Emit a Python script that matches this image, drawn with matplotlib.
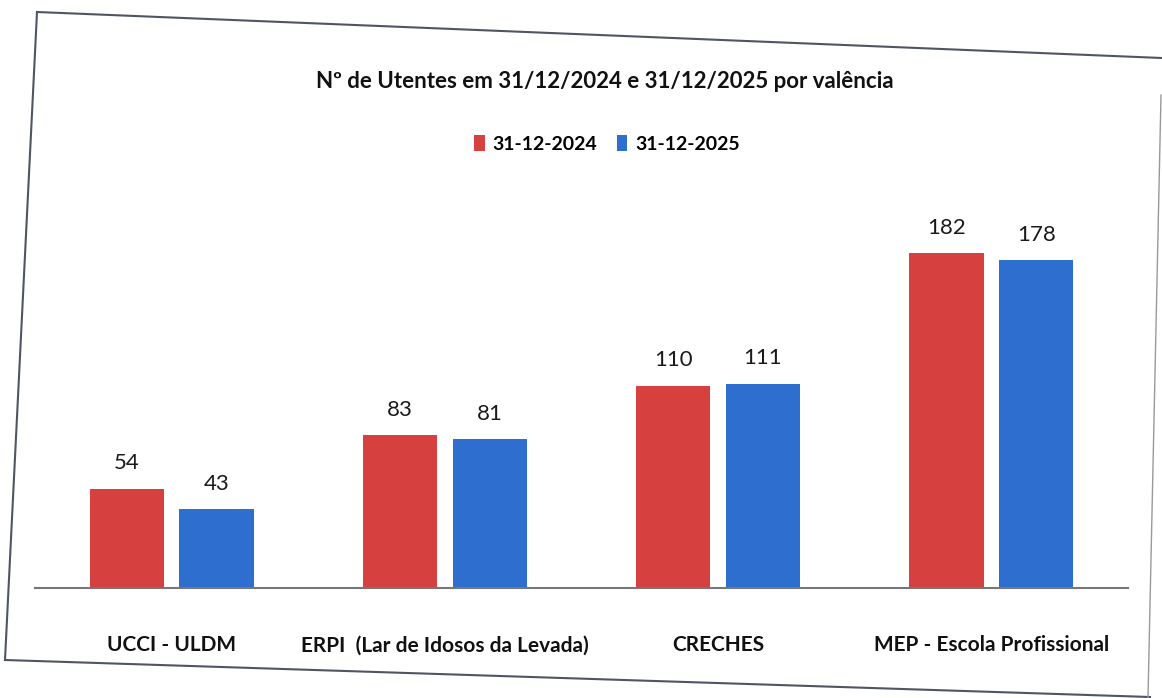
from matplotlib import pyplot as plt
from matplotlib.lines import Line2D
import numpy as np

categories = ['UCCI - ULDM', 'ERPI  (Lar de Idosos da Levada)', 'CRECHES', 'MEP - Escola Profissional']
series_names = ['31-12-2024', '31-12-2025']
values_2024 = [54, 83, 110, 182]
values_2025 = [43, 81, 111, 178]

plt.rcParams['font.family'] = ['Lato', 'DejaVu Sans']

W, H = 1162, 698

def fx(px):
    return px / W

def fy(py):
    return 1 - py / H

fig = plt.figure(figsize=(W / 100, H / 100), dpi=100)
ax = fig.add_axes([fx(35), fy(588), fx(1128) - fx(35), 368 / H])

x = np.arange(len(categories))
width = 0.272
off = 0.164
b1 = ax.bar(x - off, values_2024, width, color='#d6403f', label=series_names[0])
b2 = ax.bar(x + off, values_2025, width, color='#2e6ecf', label=series_names[1])

for bars in (b1, b2):
    for rect in bars:
        h = rect.get_height()
        ax.annotate(f'{h:.0f}', (rect.get_x() + rect.get_width() / 2, h),
                    xytext=(0, 11), textcoords='offset points',
                    ha='center', va='bottom', fontsize=16, color='#1a1a1a')

ax.set_xlim(-0.5, 3.5)
ax.set_ylim(0, 200)
ax.set_yticks([])
ax.set_xticks(x)
ax.set_xticklabels(categories, fontsize=15, fontweight='bold', color='#111111')
ax.tick_params(axis='x', length=0, pad=34)
for s in ['top', 'right', 'left']:
    ax.spines[s].set_visible(False)
ax.spines['bottom'].set_color('#777777')
ax.spines['bottom'].set_linewidth(1.5)

fig.text(fx(605), fy(82), 'Nº de Utentes em 31/12/2024 e 31/12/2025 por valência',
         ha='center', va='center', fontsize=16, fontweight='bold', color='#111111')

fig.legend(handles=[b1, b2], labels=series_names, loc='center',
           bbox_to_anchor=(fx(607), fy(144)), ncol=2, frameon=False,
           prop={'size': 14, 'weight': 'bold'}, handlelength=0.55, handleheight=0.9,
           handletextpad=0.4, columnspacing=1.0)

# scanned page border
border = '#4f5562'
fig.add_artist(Line2D([fx(37), fx(1162)], [fy(12), fy(58)], color=border, lw=1.5))
fig.add_artist(Line2D([fx(37), fx(5)], [fy(12), fy(660)], color=border, lw=1.5))
fig.add_artist(Line2D([fx(5), fx(1150)], [fy(660), fy(697)], color=border, lw=1.5))
fig.add_artist(Line2D([fx(1161), fx(1148)], [fy(95), fy(698)], color='#999999', lw=1.0))

fig.savefig('out.png', dpi=100, facecolor='white')
